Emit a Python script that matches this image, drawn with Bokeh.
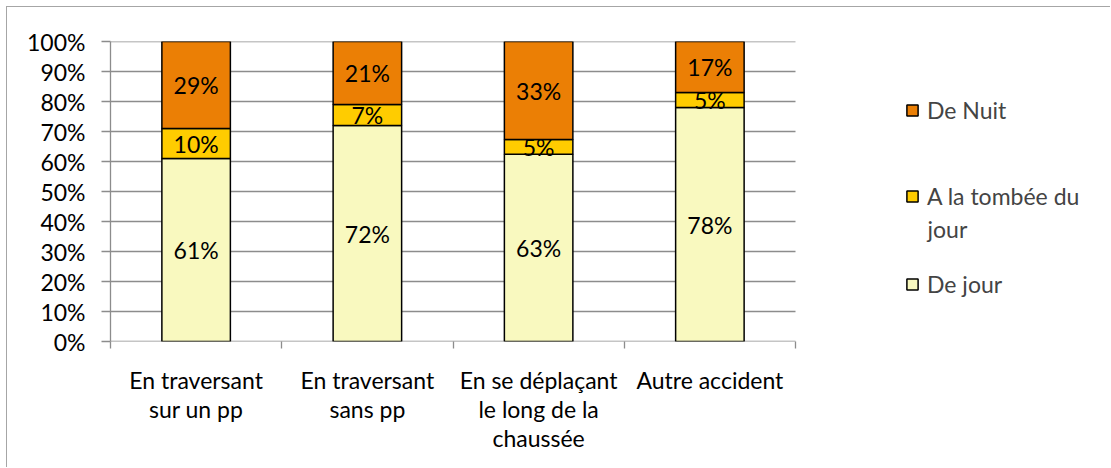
from bokeh.plotting import figure
from bokeh.models import (ColumnDataSource, Range1d, FixedTicker, NumeralTickFormatter,
                          Legend, LegendItem, Label)
from bokeh.core.properties import value
from bokeh.embed import file_html
from bokeh.resources import INLINE

categories = ["En traversant\nsur un pp", "En traversant\nsans pp",
              "En se déplaçant\nle long de la\nchaussée", "Autre accident"]
de_jour = [61, 72, 63, 78]
tombee = [10, 7, 5, 5]
nuit = [29, 21, 33, 17]
series_names = ["De jour", "A la tombée du jour", "De Nuit"]
colors = ["#F9F9BF", "#FFCC00", "#EB7F05"]
y_ticks = [0, 0.1, 0.2, 0.3, 0.4, 0.5, 0.6, 0.7, 0.8, 0.9, 1.0]

FONT = "Lato"
FS = "23px"
GRID = "#8C8C8C"

n = len(categories)
xs = list(range(n))
totals = [a + b + c for a, b, c in zip(de_jour, tombee, nuit)]
f_jour = [a / t for a, t in zip(de_jour, totals)]
f_tom = [a / t for a, t in zip(tombee, totals)]
f_nuit = [a / t for a, t in zip(nuit, totals)]

# layout (pixels)
W, H = 1104, 461
LEFT, TOP, BOTTOM = 103, 34, 127
FRAME_W = W - LEFT
PLOT_W = 685  # width of the category area inside the frame
x_end = -0.5 + n * FRAME_W / PLOT_W

src = ColumnDataSource(dict(x=xs, jour=f_jour, tombee=f_tom, nuit=f_nuit))

p = figure(width=W, height=H, x_range=Range1d(-0.5, x_end), y_range=Range1d(0, 1),
           output_backend="svg", toolbar_location=None,
           min_border_left=LEFT, min_border_top=TOP, min_border_right=0,
           min_border_bottom=BOTTOM)
p.styles = {"border-left": "1px solid #A6A6A6", "border-top": "1px solid #A6A6A6",
            "margin-left": "6px", "margin-top": "6px"}
p.outline_line_color = None
p.xgrid.grid_line_color = None
p.ygrid.grid_line_color = None

# horizontal gridlines limited to the category area
p.segment(x0=[-0.5] * len(y_ticks), x1=[n - 0.5] * len(y_ticks), y0=y_ticks, y1=y_ticks,
          line_color=GRID, line_width=1.3)

rs = p.vbar_stack(["jour", "tombee", "nuit"], x="x", width=0.4, source=src,
                  fill_color=colors, line_color="black", line_width=1.5)

# data labels at segment centers
lx, ly, lt = [], [], []
for i in range(n):
    bottom = 0.0
    for frac, val in ((f_jour[i], de_jour[i]), (f_tom[i], tombee[i]), (f_nuit[i], nuit[i])):
        lx.append(xs[i])
        ly.append(bottom + frac / 2)
        lt.append(f"{val}%")
        bottom += frac
p.text(x=lx, y=ly, text=lt, text_align="center", text_baseline="middle",
       text_font=value(FONT), text_font_size=FS, text_color="black")

# y axis
ya = p.yaxis[0]
ya.ticker = FixedTicker(ticks=y_ticks, minor_ticks=[])
ya.formatter = NumeralTickFormatter(format="0%")
ya.axis_line_color = GRID
ya.axis_line_width = 1.3
ya.major_tick_line_color = GRID
ya.major_tick_line_width = 1.3
ya.major_tick_out = 9
ya.major_tick_in = 0
ya.minor_tick_line_color = None
ya.major_label_text_font = FONT
ya.major_label_text_font_size = FS
ya.major_label_text_color = "black"
ya.major_label_standoff = 16

# x axis (line drawn by the 0% gridline)
xa = p.xaxis[0]
xa.ticker = FixedTicker(ticks=xs, minor_ticks=[i - 0.5 for i in range(n + 1)])
xa.major_label_overrides = {i: categories[i] for i in xs}
xa.axis_line_color = None
xa.major_tick_line_color = None
xa.minor_tick_line_color = GRID
xa.minor_tick_line_width = 1.3
xa.minor_tick_out = 7
xa.minor_tick_in = 0
xa.major_label_text_font = FONT
xa.major_label_text_font_size = FS
xa.major_label_text_color = "black"
xa.major_label_text_line_height = 1.05
xa.major_label_standoff = 17

# legends (one per item, placed individually inside the wide frame)
def add_leg(label, r, loc):
    lg = Legend(items=[LegendItem(label=label, renderers=[r])], location=loc,
                padding=0, margin=0, border_line_alpha=0, background_fill_alpha=0,
                glyph_width=14, glyph_height=14, label_standoff=8,
                label_text_font=FONT, label_text_font_size=FS)
    p.add_layout(lg, "center")

add_leg("De Nuit", rs[2], (795, 217))
add_leg("A la tombée du", rs[1], (795, 131))
add_leg("De jour", rs[0], (795, 43))
p.add_layout(Label(x=817, y=113, x_units="screen", y_units="screen", text="jour",
                   text_baseline="middle", text_font=FONT, text_font_size=FS))

open("out.html", "w").write(file_html(p, INLINE))
